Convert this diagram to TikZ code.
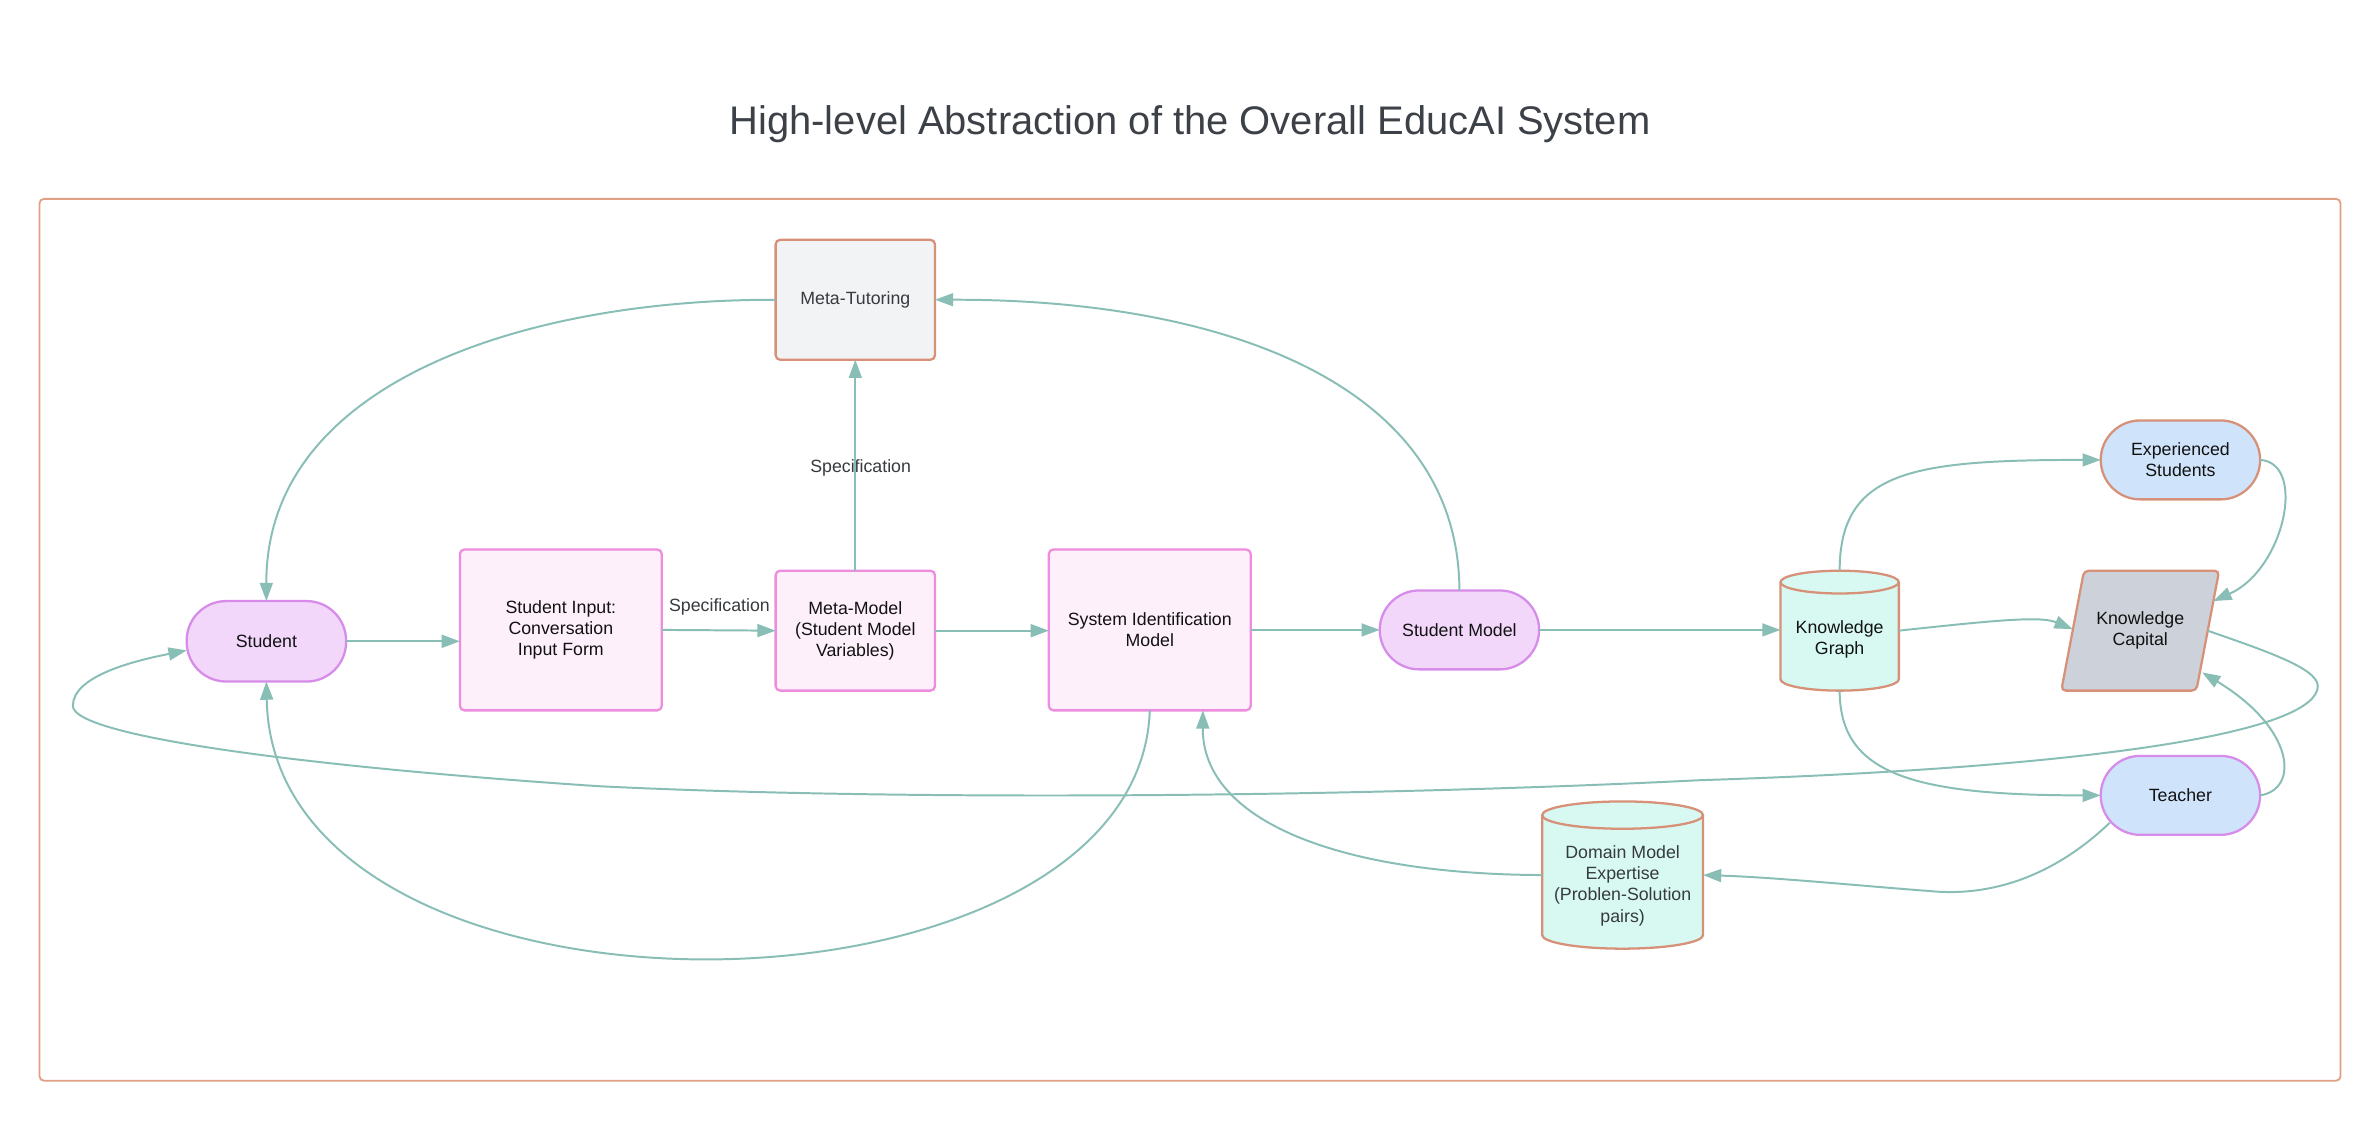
\documentclass[tikz,border=0pt]{standalone}
\usepackage{fontspec}
\setmainfont{Liberation Sans}
\usetikzlibrary{arrows.meta,backgrounds}
\definecolor{conncol}{RGB}{137,190,182}
\definecolor{framecol}{RGB}{225,160,132}
\definecolor{orangeb}{RGB}{214,145,120}
\definecolor{pinkb}{RGB}{238,140,222}
\definecolor{pinkf}{RGB}{254,240,251}
\definecolor{purpf}{RGB}{242,215,251}
\definecolor{purpb}{RGB}{214,140,232}
\definecolor{grayf}{RGB}{242,243,245}
\definecolor{mintf}{RGB}{216,249,242}
\definecolor{kcf}{RGB}{205,210,218}
\definecolor{bluef}{RGB}{207,228,251}
\definecolor{titlecol}{RGB}{60,64,71}
\definecolor{txtcol}{RGB}{18,18,18}
\definecolor{graytxt}{RGB}{55,58,62}
\newcommand{\nodefont}{\fontsize{11.7}{14}\selectfont}
\newcommand{\drawcyl}[3]{%
  \path[cylshape] ([yshift=-#3]#1.north west) -- ([yshift=#3]#1.south west)
    arc[start angle=180,end angle=360,x radius=#2,y radius=#3]
    -- ([yshift=-#3]#1.north east)
    arc[start angle=0,end angle=180,x radius=#2,y radius=#3] -- cycle;
  \draw[cylrim] ([yshift=-#3]#1.north west)
    arc[start angle=180,end angle=360,x radius=#2,y radius=#3];}
\begin{document}
\begin{tikzpicture}[x=1pt,y=-1pt,
  base/.style={inner sep=0pt,outer sep=0pt,align=center,font=\nodefont,text=txtcol,line width=1.5pt},
  stadium/.style={base,rectangle,rounded corners=26pt,minimum width=105pt,minimum height=52pt},
  pinkbox/.style={base,rectangle,rounded corners=3pt,draw=pinkb,fill=pinkf},
  holder/.style={base,rectangle,draw=none,fill=none},
  cylshape/.style={draw=orangeb,fill=mintf,line width=1.5pt,line join=round},
  cylrim/.style={draw=orangeb,line width=1.5pt},
  spec/.style={inner sep=0pt,font=\nodefont,text=graytxt},
  conn/.style={draw=conncol,line width=1.3pt,-{Triangle[length=12pt,width=8.5pt]}}]
\useasboundingbox (0,0) rectangle (1568,738.5);
\begin{scope}[on background layer]
\fill[white] (0,0) rectangle (1568,738.5);
\draw[framecol,line width=1.2pt,rounded corners=3pt] (26,131) rectangle (1542,712);
\end{scope}

\node[inner sep=0pt,text=titlecol,font=\fontsize{26.3}{31}\selectfont] (title) at (784,82) {High-level Abstraction of the Overall EducAI System};

% nodes
\node[stadium,draw=purpb,fill=purpf,minimum height=53pt] (student) at (175.5,422.5) {Student};
\node[pinkbox,minimum width=133pt,minimum height=106pt] (si) at (369.5,415) {Student Input:\\Conversation\\Input Form};
\node[pinkbox,minimum width=105pt,minimum height=79pt] (mm) at (563.5,415.5) {Meta-Model\\(Student Model\\Variables)};
\node[base,rectangle,rounded corners=3pt,draw=orangeb,fill=grayf,text=graytxt,minimum width=105pt,minimum height=79pt] (mt) at (563.5,197.5) {Meta-Tutoring};
\node[pinkbox,minimum width=133pt,minimum height=106pt] (sid) at (757.5,415) {System Identification\\Model};
\node[stadium,draw=purpb,fill=purpf] (sm) at (961.5,415) {Student Model};
\node[holder,minimum width=78pt,minimum height=79pt] (kg) at (1212,415.5) {\rule{0pt}{20pt}Knowledge\\Graph};
\node[holder,minimum width=104pt,minimum height=79pt] (kc) at (1410,415.5) {Knowledge\\Capital};
\node[stadium,draw=orangeb,fill=bluef] (es) at (1436.5,303) {Experienced\\Students};
\node[stadium,draw=purpb,fill=bluef] (teacher) at (1436.5,524) {Teacher};
\node[holder,text=graytxt,minimum width=106pt,minimum height=97pt] (dm) at (1069,576.5) {\rule{0pt}{22.5pt}Domain Model\\Expertise\\(Problen-Solution\\pairs)};

\begin{scope}[on background layer]
\drawcyl{kg}{39pt}{7.5pt}
\drawcyl{dm}{53pt}{9pt}
\draw[draw=orangeb,fill=kcf,line width=1.5pt,rounded corners=3pt]
  ([xshift=15pt]kc.north west) -- (kc.north east) -- ([xshift=-15pt]kc.south east) -- (kc.south west) -- cycle;
\end{scope}

% labels
\node[spec] (spec1) at (474,400) {Specification};
\node[spec] (spec2) at (567,308) {Specification};

% connectors
\draw[conn] (student.east) -- (student.east -| si.west);
\draw[conn] (si.east) -- (mm.west);
\draw[conn] (mm.north) -- (mt.south);
\draw[conn] (mm.east) -- (mm.east -| sid.west);
\draw[conn] (sid.east) -- (sm.west);
\draw[conn] (sm.east) -- (sm.east -| kg.west);
\draw[conn] (sm.north) .. controls (961,250) and (800,197) .. (mt.east);
\draw[conn] (mt.west) .. controls (350,197) and (175,250) .. (student.north);
\draw[conn] (sid.south) .. controls (750,684) and (180,692) .. (student.south);
\draw[conn] (dm.west) .. controls (880,576) and (792,540) .. ([xshift=35pt]sid.south);
\draw[conn] (kg.north) .. controls (1212,310) and (1260,303) .. (es.west);
\draw[conn] (kg.east) .. controls (1320,408) and (1345,406) .. ([xshift=7.5pt,yshift=1pt]kc.west);
\draw[conn] (es.east) .. controls (1520,305) and (1505,375) .. ([xshift=-3.8pt,yshift=-20pt]kc.north east);
\draw[conn] ([xshift=-7.5pt]kc.east) .. controls (1490,428) and (1527,440) .. (1527,452)
  .. controls (1527,480) and (1400,505) .. (1120,514)
  .. controls (900,525) and (600,528) .. (395,518)
  .. controls (200,505) and (48,485) .. (48,465)
  .. controls (48,445) and (90,435) .. ([yshift=-6pt]student.west);
\draw[conn] (kg.south) .. controls (1212,510) and (1260,524) .. (teacher.west);
\draw[conn] (teacher.east) .. controls (1515,520) and (1512,480) .. ([xshift=-11.2pt,yshift=-67pt]kc.north east);
\draw[conn] ([xshift=6pt,yshift=-18pt]teacher.west) .. controls (1345,585) and (1300,590) .. (1271,587)
  .. controls (1230,584) and (1170,578) .. (dm.east);
\end{tikzpicture}
\end{document}
